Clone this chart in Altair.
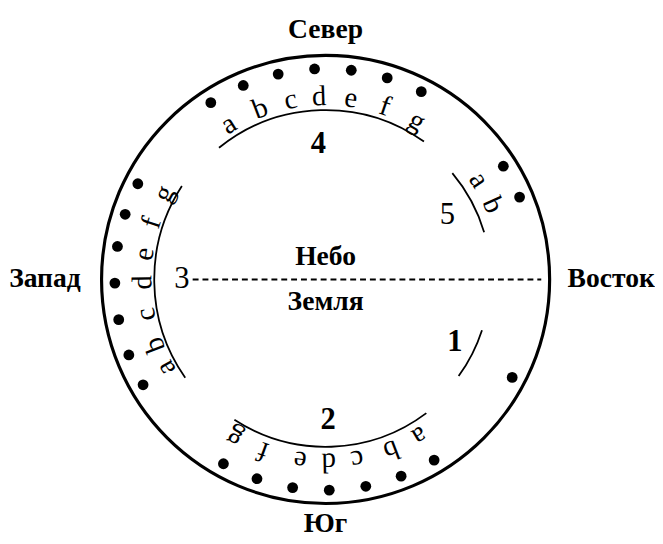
import math
import altair as alt
import pandas as pd

# ---- data (bearings in degrees, clockwise from north; radii in px) ----
letters = ["a", "b", "c", "d", "e", "f", "g"]
g4_dots = [-33, -23, -13, -3, 7, 17, 27]
g4_lets = [-32, -21, -11, -2, 8, 19, 30]
g3_dots = [240, 249, 259, 269, 279, 288, 297]
g3_lets = [241, 249, 259, 269, 278, 288, 298]
g2_dots = [149, 159, 169, 179, 189, 199, 209]
g2_lets = [149, 159, 170, 179, 188, 200, 210]
g5_letters = ["a", "b"]
g5_dots = [57.5, 67]
g5_lets = [57, 66]
g1_dots = [117.7]

arc_names = ["4", "5", "1", "2", "3"]
arc_start = [-39, 50, 108, 143, 235]
arc_end = [35.5, 73.4, 126, 213, 303]
arc_r = [172, 168, 167, 170, 174]
arc_w = 1.8
outer_r = 227.5
outer_w = 3.2

num_labels = ["1", "2", "3", "4", "5"]
num_bearing = [116, 179, 270, -3, 62]
num_r = [146, 143, 146, 138, 140]
num_weight = ["bold", "bold", "normal", "bold", "normal"]

compass = ["Север", "Восток", "Юг", "Запад"]
compass_bearing = [0, 90, 180, 270]
compass_r = [253, 290, 248, 285]

mid_labels = ["Небо", "Земля"]
mid_bearing = [0, 180]
mid_r = [23, 23]

dash_from = [-135]
dash_to = [219]

# ---- tables ----
dots = pd.DataFrame({
    "b": g4_dots + g3_dots + g2_dots + g5_dots + g1_dots,
    "r": [214] * (7 * 3 + 2 + 1),
})
lets = pd.DataFrame({
    "t": letters * 3 + g5_letters,
    "b": g4_lets + g3_lets + g2_lets + g5_lets,
    "r": [186] * (7 * 3 + 2),
})
nums = pd.DataFrame({"t": num_labels, "b": num_bearing, "r": num_r, "w": num_weight})
comp = pd.DataFrame({"t": compass, "b": compass_bearing, "r": compass_r})
mids = pd.DataFrame({"t": mid_labels, "b": mid_bearing, "r": mid_r})
dash = pd.DataFrame({"x1": dash_from, "x2": dash_to, "y": [0]})
center = pd.DataFrame({"cx": [0], "cy": [0]})

W, H = 647, 528
xs = alt.Scale(domain=[-322.5, 324.5])
ys = alt.Scale(domain=[-256.5, 271.5])
FONT = "Liberation Serif"


def polar(ch):
    return ch.transform_calculate(
        px="datum.r * sin(datum.b * PI / 180)",
        py="datum.r * cos(datum.b * PI / 180)",
    )


def pos():
    return dict(
        x=alt.X("px:Q", scale=xs, axis=None),
        y=alt.Y("py:Q", scale=ys, axis=None),
    )


def arc_path(b1, b2, r):
    x1, y1 = r * math.sin(math.radians(b1)), -r * math.cos(math.radians(b1))
    x2, y2 = r * math.sin(math.radians(b2)), -r * math.cos(math.radians(b2))
    return f"M{x1:.2f},{y1:.2f}A{r},{r} 0 0 1 {x2:.2f},{y2:.2f}"


def ring_layer(path, w):
    return alt.Chart(center).mark_point(
        shape=path, size=4, filled=False, stroke="black", strokeWidth=w, opacity=1
    ).encode(
        x=alt.X("cx:Q", scale=xs, axis=None),
        y=alt.Y("cy:Q", scale=ys, axis=None),
    )


rings = [ring_layer(
    f"M0,{-outer_r}A{outer_r},{outer_r} 0 1 1 0,{outer_r}A{outer_r},{outer_r} 0 1 1 0,{-outer_r}Z",
    outer_w)]
for b1, b2, r in zip(arc_start, arc_end, arc_r):
    rings.append(ring_layer(arc_path(b1, b2, r), arc_w))

dotl = polar(alt.Chart(dots)).mark_circle(color="black", opacity=1, size=120).encode(**pos())

letl = polar(alt.Chart(lets)).mark_text(font=FONT, fontSize=29, baseline="middle", color="black").encode(
    text="t:N",
    angle=alt.Angle("b:Q", scale=alt.Scale(domain=[0, 360], range=[0, 360])),
    **pos(),
)

numb = polar(alt.Chart(nums).transform_filter("datum.w == 'bold'")).mark_text(
    font=FONT, fontSize=31, fontWeight="bold", baseline="middle", color="black"
).encode(text="t:N", **pos())

numn = polar(alt.Chart(nums).transform_filter("datum.w == 'normal'")).mark_text(
    font=FONT, fontSize=31, fontWeight="normal", baseline="middle", color="black"
).encode(text="t:N", **pos())

compl = polar(alt.Chart(comp)).mark_text(font=FONT, fontSize=28, fontWeight="bold", baseline="middle", color="black").encode(
    text="t:N", **pos()
)

midl = polar(alt.Chart(mids)).mark_text(font=FONT, fontSize=28, fontWeight="bold", baseline="middle", color="black").encode(
    text="t:N", **pos()
)

dashl = alt.Chart(dash).mark_rule(color="black", strokeWidth=2, strokeDash=[6, 4]).encode(
    x=alt.X("x1:Q", scale=xs, axis=None),
    x2="x2:Q",
    y=alt.Y("y:Q", scale=ys, axis=None),
)

chart = alt.layer(dashl, *rings, dotl, letl, numb, numn, compl, midl).properties(
    width=W, height=H, padding=0, background="white"
).configure_view(stroke=None)

chart.save("out.html", embed_options={"renderer": "svg", "actions": False})
